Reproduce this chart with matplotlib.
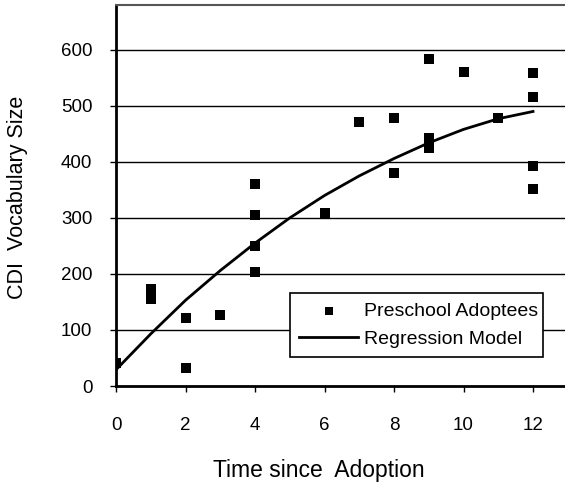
import matplotlib.pyplot as plt
import numpy as np

plt.rcParams['font.family'] = ['Liberation Sans', 'DejaVu Sans']

# -----------------------
# DATA
# -----------------------
adopt_time = [0, 1, 1, 2, 2, 3, 4, 4, 4, 4, 6, 7, 8, 8, 9, 9, 9, 10, 11, 12, 12, 12, 12]
vocab_size = [41, 173, 156, 121, 32, 127, 361, 306, 250, 204, 309, 472, 478, 381,
              583, 442, 425, 561, 478, 558, 515, 393, 352]

model_time = [0, 1, 2, 3, 4, 5, 6, 7, 8, 9, 10, 11, 12]
model_vocab = [29, 93, 153, 206, 255, 300, 340, 375, 406, 434, 458, 477, 490]

xticks = [0, 2, 4, 6, 8, 10, 12]
yticks = [0, 100, 200, 300, 400, 500, 600]

# -----------------------
# PLOT
# -----------------------
fig = plt.figure(figsize=(5.65, 4.86), dpi=100)
ax = fig.add_axes([116 / 565, 1 - 386 / 486, 1 - 116 / 565, (386 - 5) / 486])

for y in yticks[1:]:
    ax.axhline(y, color='black', lw=1.0, zorder=1)

ax.scatter(adopt_time, vocab_size, marker='s', s=42, color='black',
           linewidths=0, zorder=3, label='Preschool Adoptees')
ax.plot(model_time, model_vocab, color='black', lw=2.0, zorder=2,
        label='Regression Model')

ax.set_xlim(0, 12.92)
ax.set_ylim(0, 680)
ax.set_xticks(xticks)
ax.set_yticks(yticks)
ax.tick_params(direction='out', length=4, width=1, labelsize=13.5)
ax.tick_params(axis='y', pad=13)
ax.tick_params(axis='x', pad=18)

ax.spines['right'].set_visible(False)
ax.spines['left'].set_linewidth(2)
ax.spines['bottom'].set_linewidth(2)
ax.spines['top'].set_linewidth(1.5)
ax.spines['top'].set_color('#555555')

ax.set_ylabel('CDI  Vocabulary Size', fontsize=15.5)
ax.yaxis.set_label_coords(-(116 - 18) / 449, (386 - 197) / 381)
ax.yaxis.label.set_va('center')
ax.set_xlabel('Time since  Adoption', fontsize=16.5)
ax.xaxis.set_label_coords((319 - 116) / 449, -(477 - 386) / 381)
ax.xaxis.label.set_va('baseline')

leg = ax.legend(loc='lower left', bbox_to_anchor=((280 - 116) / 449, (386 - 367) / 381,
                                                  (553 - 280) / 449, (367 - 290) / 381),
                mode='expand', fancybox=False, framealpha=1, edgecolor='black',
                fontsize=14, handlelength=3.0, handletextpad=0.3, borderpad=0.5,
                labelspacing=0.5, markerscale=0.8)
leg.get_frame().set_linewidth(1.2)

fig.savefig('out.png', dpi=100)
